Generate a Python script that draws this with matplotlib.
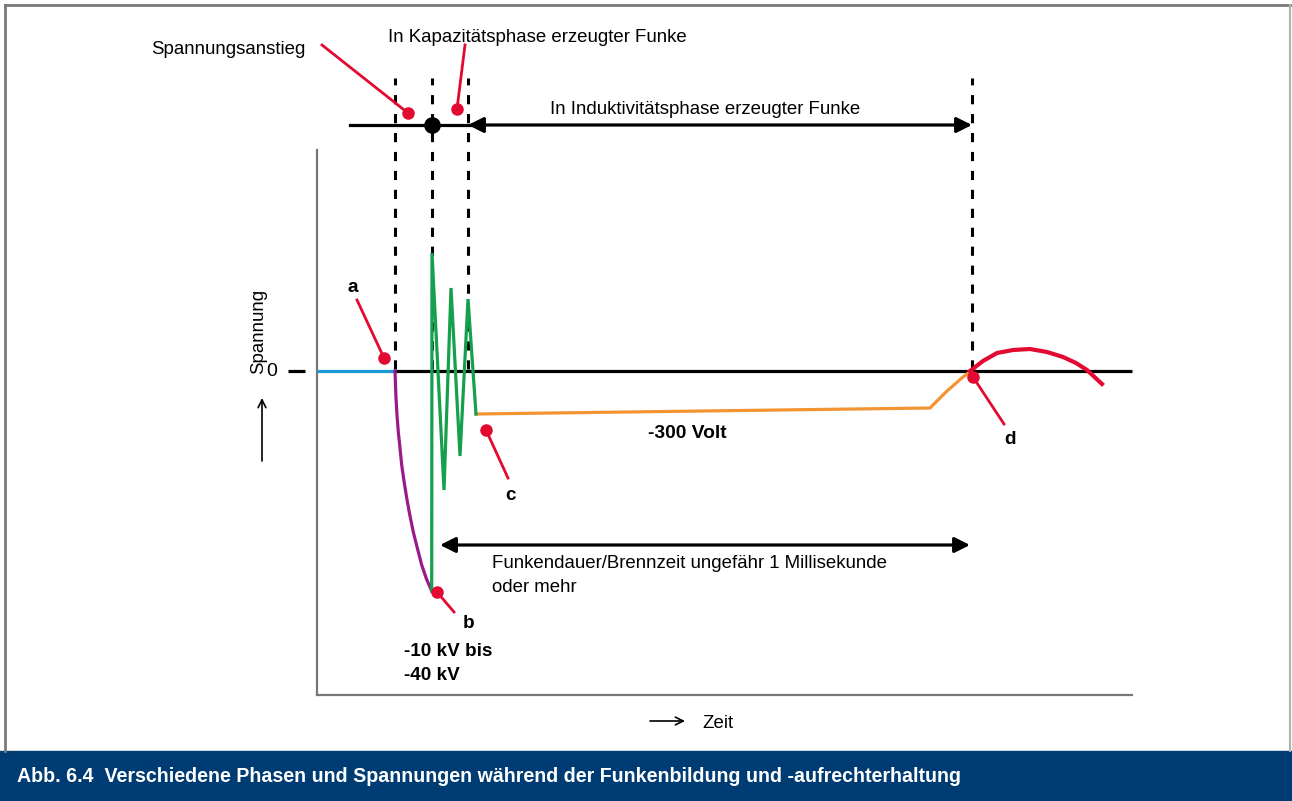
import matplotlib
matplotlib.use("Agg")
import matplotlib.pyplot as plt
from matplotlib.patches import Rectangle
from matplotlib.lines import Line2D

plt.rcParams['font.family'] = ['Liberation Sans', 'DejaVu Sans']

# ---- data (time units, voltage units; 0 = zero line) ----
t_rest = [0, 78]
v_rest = [0, 0]

t_rise = [78, 79, 80, 81.3, 83, 84.7, 87, 89.7, 92.8, 96.3, 100.3, 104.7, 109.5, 114.7]
v_rise = [0, -27, -44, -61, -77, -94, -110, -127, -144, -161, -177, -194, -208, -220]

t_spark = [114.7, 115, 127, 134, 143, 151, 159]
v_spark = [-220, 118, -119, 83, -85, 72, -43]

t_ind = [159, 613, 622, 630, 638, 646, 654]
v_ind = [-43, -37, -28, -20, -13, -6, 0]

t_end = [653, 666, 680, 696, 713, 730, 746, 759, 770, 785]
v_end = [0, 10, 18, 21, 22, 19, 14, 8, 1, -13]

phase_marks = [78, 115, 151, 655]   # dashed vertical phase boundaries
t_zero_end = 815

COL_BLUE = '#1a9ad6'
COL_PURPLE = '#9a1a8a'
COL_GREEN = '#14a04c'
COL_ORANGE = '#f39433'
COL_RED = '#e20a30'
COL_BANNER = '#003c74'

FS = 13.4
DY = -3  # small vertical text offset

W, H = 1292, 801
fig = plt.figure(figsize=(W / 100, H / 100), dpi=100)

# frame and banner
fig.patches.append(Rectangle((0, 0), 1, 50 / H, transform=fig.transFigure,
                             color=COL_BANNER, zorder=0))
fig.add_artist(Line2D([5 / W, 1290 / W], [1 - 5 / H, 1 - 5 / H], transform=fig.transFigure,
                      color='#7a7a7a', lw=2))
fig.add_artist(Line2D([5 / W, 5 / W], [50 / H, 1 - 5 / H], transform=fig.transFigure,
                      color='#7a7a7a', lw=2))
fig.add_artist(Line2D([1290 / W, 1290 / W], [50 / H, 1 - 5 / H], transform=fig.transFigure,
                      color='#b0b0b0', lw=1.5))
fig.text(17 / W, 24 / H, 'Abb. 6.4  Verschiedene Phasen und Spannungen während der Funkenbildung und -aufrechterhaltung',
         color='white', fontsize=14.1, fontweight='bold', va='center', ha='left')

# main axes: left spine at px 317, bottom spine at px 695
x0, x1 = 317, 1132
y_top, y_bot = 150, 695
ax = fig.add_axes([x0 / W, (H - y_bot) / H, (x1 - x0) / W, (y_bot - y_top) / H])
ax.set_xlim(0, x1 - x0)
ax.set_ylim(371 - y_bot, 371 - y_top)
for s in ['top', 'right']:
    ax.spines[s].set_visible(False)
for s in ['left', 'bottom']:
    ax.spines[s].set_color('#777777')
    ax.spines[s].set_linewidth(1.6)
ax.set_xticks([])
ax.set_yticks([])

LW = 2.3
# zero line
ax.plot([t_rest[1], t_zero_end], [0, 0], color='black', lw=LW, zorder=2, clip_on=False,
        solid_capstyle='butt')
ax.plot([-29, -12], [0, 0], color='black', lw=LW, clip_on=False, solid_capstyle='butt')

# dashed phase boundaries
for tm in phase_marks:
    ax.plot([tm, tm], [2, 293], color='black', lw=2.2, dashes=(3, 3.2), clip_on=False, zorder=1)

# curves
ax.plot(t_rest, v_rest, color=COL_BLUE, lw=LW, zorder=3, clip_on=False, solid_capstyle='butt')
ax.plot(t_rise, v_rise, color=COL_PURPLE, lw=LW, zorder=3, clip_on=False)
ax.plot(t_spark, v_spark, color=COL_GREEN, lw=LW, zorder=4, clip_on=False, solid_joinstyle='miter')
ax.plot(t_ind, v_ind, color=COL_ORANGE, lw=LW, zorder=3, clip_on=False)
ax.plot(t_end, v_end, color=COL_RED, lw=3, zorder=3, clip_on=False)

# top phase line
v_top = 246
ax.plot([33, phase_marks[1]], [v_top, v_top], color='black', lw=2.3, clip_on=False)
ax.plot([phase_marks[1]], [v_top], 'o', color='black', ms=11, clip_on=False, zorder=5)
ax.annotate('', xy=(phase_marks[3], v_top), xytext=(phase_marks[2], v_top),
            arrowprops=dict(arrowstyle='<|-|>', color='black', lw=2.3,
                            mutation_scale=23, shrinkA=0, shrinkB=0), annotation_clip=False)
ax.plot([phase_marks[1], phase_marks[2] + 2], [v_top, v_top], color='black', lw=2.3, clip_on=False)
ax.text(388, 265 + DY, 'In Induktivitätsphase erzeugter Funke', ha='center', va='center', fontsize=FS)

# duration arrow
ax.annotate('', xy=(653, -174), xytext=(123, -174),
            arrowprops=dict(arrowstyle='<|-|>', color='black', lw=2.3,
                            mutation_scale=23, shrinkA=0, shrinkB=0), annotation_clip=False)
ax.text(175, -189 + DY, 'Funkendauer/Brennzeit ungefähr 1 Millisekunde', ha='left', va='center', fontsize=FS)
ax.text(175, -214 + DY, 'oder mehr', ha='left', va='center', fontsize=FS)

# texts
ax.text(370, -60 + DY, '-300 Volt', ha='center', va='center', fontsize=13.8, fontweight='bold')
ax.text(87, -277 + DY, '-10 kV bis', ha='left', va='center', fontsize=13.6, fontweight='bold')
ax.text(87, -302 + DY, '-40 kV', ha='left', va='center', fontsize=13.6, fontweight='bold')
ax.text(-45, 0, '0', ha='center', va='center', fontsize=14)
ax.text(-58, 40, 'Spannung', ha='center', va='center', fontsize=FS, rotation=90)
ax.annotate('', xy=(-55, -27), xytext=(-55, -90),
            arrowprops=dict(arrowstyle='->', color='black', lw=1.2, mutation_scale=14,
                            shrinkA=0, shrinkB=0), annotation_clip=False)
ax.annotate('', xy=(368, -350), xytext=(333, -350),
            arrowprops=dict(arrowstyle='->', color='black', lw=1.2, mutation_scale=14,
                            shrinkA=0, shrinkB=0), annotation_clip=False)
ax.text(385, -350 + DY, 'Zeit', ha='left', va='center', fontsize=FS)


# red callouts: (dot t, dot v, line end t, line end v)
def callout(dt, dv, lt, lv):
    ax.plot([dt, lt], [dv, lv], color=COL_RED, lw=2, clip_on=False, zorder=6)
    ax.plot([dt], [dv], 'o', color=COL_RED, ms=8, clip_on=False, zorder=6)


callout(91, 258, 5, 326)
ax.text(-12, 324 + DY, 'Spannungsanstieg', ha='right', va='center', fontsize=FS)
callout(140, 262, 148, 326)
ax.text(220, 337 + DY, 'In Kapazitätsphase erzeugter Funke', ha='center', va='center', fontsize=FS)
callout(67, 13, 40, 71)
ax.text(36, 87 + DY, 'a', ha='center', va='center', fontsize=13.6, fontweight='bold')
callout(169, -59, 191, -107)
ax.text(194, -122 + DY, 'c', ha='center', va='center', fontsize=13.6, fontweight='bold')
callout(120, -221, 137, -241)
ax.text(152, -250 + DY, 'b', ha='center', va='center', fontsize=13.6, fontweight='bold')
callout(656, -6, 687, -53)
ax.text(693, -65 + DY, 'd', ha='center', va='center', fontsize=13.6, fontweight='bold')

fig.savefig('out.png', dpi=100)
